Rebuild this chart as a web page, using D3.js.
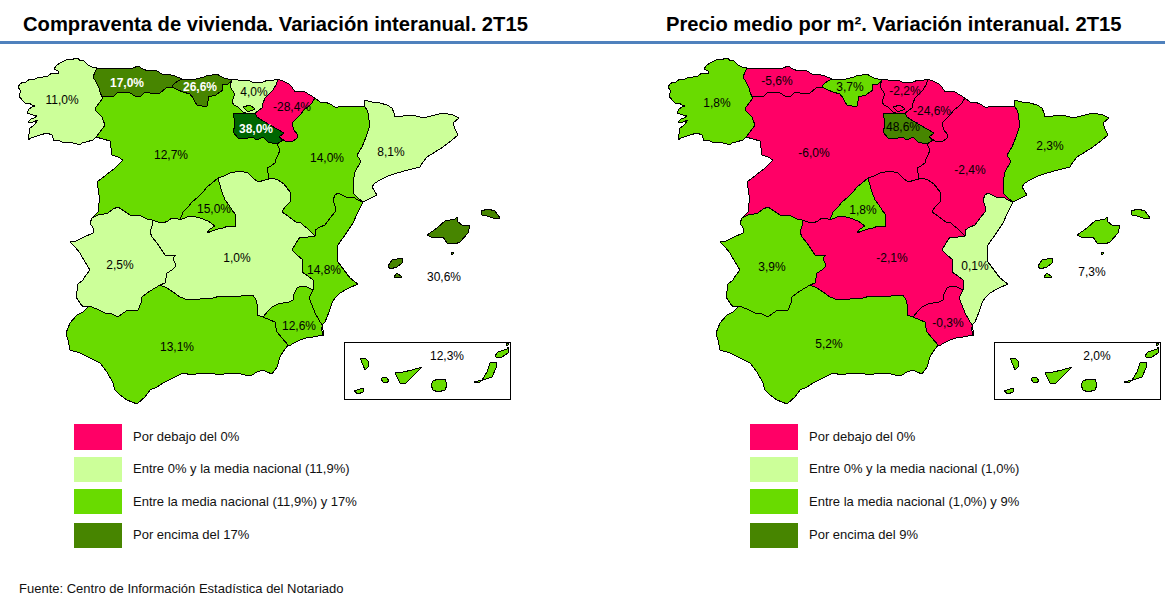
<!DOCTYPE html>
<html>
<head>
<meta charset="utf-8">
<script src="https://d3js.org/d3.v7.min.js"></script>
<style>
  html, body { margin: 0; padding: 0; background: #fff; }
  svg { display: block; }
  text { font-family: "Liberation Sans", Arial, sans-serif; fill: #000; }
  .title { font-size: 20.2px; font-weight: bold; }
  .value { font-size: 12px; text-anchor: middle; }
  .legend { font-size: 13px; fill: #111; }
  .region { stroke: #000; stroke-width: 1; stroke-linejoin: round; fill-rule: evenodd; shape-rendering: crispEdges; }
</style>
</head>
<body>
<div id="chart"></div>
<script>
// Data
var regions = ["Galicia", "Asturias", "Cantabria", "PaisVasco", "Navarra", "Rioja", "Aragon", "Cataluna", "CastillaLeon", "Madrid", "CastillaMancha", "Extremadura", "Valencia", "Murcia", "Andalucia", "Baleares", "Canarias"];
var ventas = [11.0, 17.0, 26.6, 4.0, -28.4, 38.0, 14.0, 8.1, 12.7, 15.0, 1.0, 2.5, 14.8, 12.6, 13.1, 30.6, 12.3];
var precios = [1.8, -5.6, 3.7, -2.2, -24.6, 48.6, -2.4, 2.3, -6.0, 1.8, -2.1, 3.9, 0.1, -0.3, 5.2, 7.3, 2.0];

var titleVentas = "Compraventa de vivienda. Variación interanual. 2T15";
var titlePrecios = "Precio medio por m². Variación interanual. 2T15";
var legendVentas = ["Por debajo del 0%", "Entre 0% y la media nacional (11,9%)", "Entre la media nacional (11,9%) y 17%", "Por encima del 17%"];
var legendPrecios = ["Por debajo del 0%", "Entre 0% y la media nacional (1,0%)", "Entre la media nacional (1,0%) y 9%", "Por encima del 9%"];
var breaksVentas = [0, 11.9, 17, 35];
var breaksPrecios = [0, 1.0, 9];
var source = "Fuente: Centro de Información Estadística del Notariado";

// Shared borders, traced in the units of the left map
var arcs = {
  galCoast: [[97,68],[92,67],[88,65],[85,62],[83,60],[80,61],[78,58],[75,58],[72,60],[68,59],[64,61],[60,63],[56,66],[54,69],[58,71],[58,74],[52,73],[48,76],[43,77],[39,77],[35,79],[30,79],[26,82],[23,82],[20,84],[18,87],[20,90],[20,93],[19,96],[22,100],[25,103],[29,103],[32,105],[35,106],[32,107],[29,109],[27,113],[30,114],[33,115],[37,116],[34,118],[31,119],[28,122],[33,122],[38,120],[35,124],[33,126],[30,128],[29,134],[28,140],[31,138],[34,137],[40,135],[47,133],[52,135],[54,141],[57,140],[60,141],[64,143],[67,142],[73,143],[77,144],[80,145],[83,142],[86,142],[93,140],[96,137]],
  galCyl: [[96,137],[100,132],[105,125],[103,120],[102,117],[98,113],[95,110],[96,107],[100,102],[103,98],[102,97]],
  galAst: [[102,97],[100,92],[99,88],[96,82],[93,77],[95,72],[97,68]],
  astCoast: [[97,68],[103,69],[110,68],[118,69],[127,68],[133,68],[138,66],[143,69],[148,71],[153,70],[157,71],[162,74],[167,74],[175,76],[182,79]],
  astCant: [[182,79],[178,81],[175,83],[173,85],[172,87]],
  astCyl: [[102,97],[108,96],[113,97],[116,94],[118,92],[124,92],[130,93],[135,96],[140,97],[144,93],[147,92],[153,94],[160,93],[166,88],[172,87]],
  cantCoast: [[182,79],[187,80],[192,79],[196,79],[200,78],[204,77],[208,75],[212,75],[217,74],[220,76],[224,78],[232,80]],
  cantCyl: [[172,87],[178,90],[183,92],[190,94],[193,98],[195,102],[197,105],[202,106],[207,106],[208,101],[208,97],[212,96],[216,95],[220,92],[223,90],[222,85],[228,84],[232,80]],
  basCoast: [[232,80],[236,79],[240,81],[248,80],[252,82],[256,83],[263,82],[268,80],[270,81],[278,79]],
  basNav: [[278,79],[276,85],[273,90],[269,94],[265,98],[263,103],[262,108],[255,113]],
  basRio: [[255,113],[249,114]],
  basCyl: [[249,114],[243,112],[238,107],[234,105],[232,102],[234,96],[234,93],[231,88],[230,85],[232,80]],
  navNorth: [[278,79],[285,82],[289,84],[292,87],[295,92],[300,91],[305,92],[310,95],[315,98]],
  navAra: [[315,98],[312,103],[308,107],[304,110],[300,115],[296,119],[292,123],[294,130],[297,134],[297,138],[292,142],[285,141],[279,137]],
  navRio: [[279,137],[284,133],[277,129],[270,125],[263,121],[257,117],[255,113]],
  rioAra: [[279,137],[283,140],[277,144]],
  rioCyl: [[277,144],[272,143],[268,142],[263,137],[257,140],[252,137],[248,138],[243,139],[238,138],[233,132],[235,125],[234,118],[233,113],[240,113],[249,114]],
  araNorth: [[315,98],[320,102],[325,102],[330,104],[335,107],[338,107],[344,106],[350,107],[358,106],[365,107]],
  araCat: [[365,107],[367,110],[368,113],[369,120],[369,128],[366,137],[362,147],[357,155],[360,160],[360,163],[355,172],[353,182],[354,188],[353,193],[358,198],[363,202]],
  araVal: [[363,202],[358,200],[353,197],[346,197],[338,193],[335,195],[333,200],[335,206],[335,212],[330,218],[325,225],[320,227],[315,230],[315,236]],
  araClm: [[315,236],[311,232],[307,228],[304,226],[300,222],[296,222],[293,220],[288,216],[282,212],[285,207],[290,202],[291,197],[290,192],[284,184],[278,180],[272,178]],
  araCyl: [[277,144],[280,150],[278,155],[276,159],[275,163],[271,166],[267,168],[268,173],[268,178],[272,178]],
  clmCylE: [[272,178],[265,180],[258,182],[253,178],[248,173],[244,172],[240,171],[235,172],[230,173],[224,176],[218,178]],
  madCyl: [[218,178],[212,183],[207,187],[203,192],[198,197],[192,202],[188,207],[183,212],[180,220]],
  madClm: [[218,178],[220,185],[222,192],[225,200],[229,205],[232,210],[235,214],[235,218],[236,226],[228,226],[223,228],[218,229],[212,231],[207,233],[210,229],[215,226],[208,221],[200,218],[192,216],[187,217],[180,220]],
  clmCylW: [[180,220],[176,218],[172,218],[168,221],[163,223],[158,222],[152,220]],
  extCyl: [[92,218],[98,215],[104,214],[108,213],[113,209],[118,207],[124,211],[130,215],[136,215],[141,216],[147,219],[152,220]],
  cylPort: [[96,137],[103,139],[110,141],[111,148],[112,155],[118,157],[123,160],[119,164],[115,168],[106,175],[97,182],[98,188],[99,195],[99,203],[98,212],[92,218]],
  extPort: [[92,218],[90,223],[93,228],[93,233],[82,238],[76,241],[70,242],[75,247],[80,253],[85,262],[90,270],[86,275],[83,280],[78,284],[77,291],[76,297],[80,303],[83,307],[89,306]],
  extAnd: [[89,306],[97,309],[105,313],[112,314],[118,317],[123,313],[128,310],[133,311],[138,310],[141,303],[142,297],[150,291],[155,288],[160,285]],
  extClm: [[160,285],[165,283],[166,278],[167,273],[172,270],[176,266],[173,258],[176,255],[170,256],[165,255],[161,249],[157,243],[152,237],[150,232],[152,226],[152,220]],
  andClm: [[160,285],[167,288],[173,292],[180,297],[188,300],[195,299],[200,299],[207,298],[213,298],[220,296],[225,296],[231,296],[237,297],[245,295],[253,295],[256,300],[258,307],[257,315],[263,317]],
  andMur: [[263,317],[270,320],[275,322],[276,328],[277,332],[282,338],[288,345]],
  clmMur: [[263,317],[268,311],[272,307],[278,304],[283,303],[289,302],[293,300],[294,294],[297,288],[301,286],[305,286],[309,288],[313,290]],
  valClm: [[315,236],[308,237],[300,237],[296,243],[292,250],[297,255],[303,260],[302,267],[302,272],[308,276],[313,280],[313,285],[313,290]],
  valMur: [[313,290],[309,298],[312,305],[315,313],[319,320],[322,325]],
  valCoast: [[363,202],[358,212],[353,223],[345,235],[340,242],[337,247],[337,255],[338,262],[344,270],[350,278],[358,284],[349,288],[340,293],[335,298],[332,303],[329,312],[325,322],[322,325]],
  murCoast: [[322,325],[324,335],[318,336],[313,337],[306,338],[300,340],[294,343],[289,346],[288,345]],
  andCoast: [[288,345],[283,352],[280,357],[277,367],[272,374],[267,372],[263,370],[257,372],[252,375],[245,375],[237,373],[228,373],[220,375],[210,373],[200,373],[192,375],[183,373],[173,378],[163,383],[157,387],[150,390],[145,397],[137,404],[132,402],[127,400],[120,395],[115,390],[113,383],[107,372],[100,363],[90,358],[80,353],[70,350],[68,340],[66,333],[70,323],[77,315],[83,312],[89,306]],
  catCoast: [[365,107],[364,100],[372,102],[380,103],[387,105],[392,108],[394,113],[395,117],[403,116],[412,115],[420,117],[427,117],[435,115],[443,113],[453,115],[459,118],[453,123],[455,129],[458,135],[451,141],[443,147],[435,152],[427,157],[423,162],[420,167],[408,170],[397,173],[388,176],[380,180],[375,183],[372,187],[377,195],[367,200],[363,202]]
};

// Islands, enclaves and lagoons have no shared border, so they are plain rings
var extraRings = {
  CastillaLeon: [[[243,107],[250,105],[255,109],[248,112]]],
  Cantabria: [[[225,99],[230,97],[233,101],[229,103]]],
  Navarra: [[[301,120],[304,118],[306,121],[303,122]]],
  Murcia: [[[321,327],[324,332],[323,335],[320,331]]],
  Baleares: [
    [[427,235],[437,228],[445,221],[455,219],[457,217],[458,222],[462,225],[470,225],[468,233],[460,242],[455,244],[447,243],[443,237],[433,238]],
    [[481,211],[488,209],[495,211],[500,218],[493,218],[487,216],[482,215]],
    [[388,266],[392,260],[402,258],[402,263],[397,267],[390,269]],
    [[394,277],[397,273],[402,277],[397,278]],
    [[451,252],[453,252],[453,254],[451,254]]
  ],
  Canarias: [
    [[360,358],[365,358],[369,362],[368,367],[365,370],[363,365]],
    [[354,391],[363,388],[363,392],[358,394]],
    [[381,379],[383,377],[387,378],[389,381],[386,383],[383,382]],
    [[395,373],[403,372],[412,370],[422,367],[417,372],[412,377],[405,384],[400,383]],
    [[431,385],[433,381],[438,379],[445,379],[447,385],[445,390],[438,392],[433,390]],
    [[474,382],[482,380],[487,372],[490,363],[496,362],[496,368],[492,377],[483,380],[478,383]],
    [[495,356],[498,352],[507,349],[508,347],[508,353],[502,357],[497,358]],
    [[506,343],[508,343],[508,345],[506,345]]
  ]
};

var borders = {
  Galicia: ["galCoast", "galCyl", "galAst"],
  Asturias: ["astCoast", "astCant", "-astCyl", "galAst"],
  Cantabria: ["cantCoast", "-cantCyl", "-astCant"],
  PaisVasco: ["basCoast", "basNav", "basRio", "basCyl"],
  Navarra: ["navNorth", "navAra", "navRio", "-basNav"],
  Rioja: ["-basRio", "-navRio", "rioAra", "rioCyl"],
  Aragon: ["-navAra", "araNorth", "araCat", "araVal", "araClm", "-araCyl", "-rioAra"],
  Cataluna: ["catCoast", "-araCat"],
  CastillaLeon: ["astCyl", "cantCyl", "-basCyl", "-rioCyl", "araCyl", "clmCylE", "madCyl", "clmCylW", "-extCyl", "-cylPort", "galCyl"],
  Madrid: ["madClm", "-madCyl"],
  CastillaMancha: ["-clmMur", "-andClm", "extClm", "-clmCylW", "-madClm", "-clmCylE", "-araClm", "valClm"],
  Extremadura: ["extPort", "extAnd", "extClm", "-extCyl"],
  Valencia: ["valCoast", "-valMur", "-valClm", "-araVal"],
  Murcia: ["murCoast", "-andMur", "clmMur", "valMur"],
  Andalucia: ["andCoast", "extAnd", "andClm", "andMur"],
  Baleares: [],
  Canarias: []
};

var labelsVentas = {
  Galicia: [62,100], Asturias: [127,83], Cantabria: [200,87], PaisVasco: [254,92], Navarra: [292,107],
  Rioja: [256,129], Aragon: [327,158], Cataluna: [391,152], CastillaLeon: [171,155], Madrid: [214,209],
  CastillaMancha: [237,258], Extremadura: [120,265], Valencia: [324,270], Murcia: [299,326],
  Andalucia: [177,347], Baleares: [444,277], Canarias: [447,356]
};
var labelsPrecios = {
  Galicia: [67,103], Asturias: [127,81], Cantabria: [200,87], PaisVasco: [255,91], Navarra: [282,111],
  Rioja: [253,127], Aragon: [320,170], Cataluna: [400,146], CastillaLeon: [164,153], Madrid: [213,210],
  CastillaMancha: [242,258], Extremadura: [122,267], Valencia: [325,266], Murcia: [298,323],
  Andalucia: [179,344], Baleares: [442,272], Canarias: [447,356]
};

var colors = ["#FF0066", "#CCFF99", "#69DB00", "#478500", "#006600"];

function ringOf(names) {
  var ring = [];
  names.forEach(function (name) {
    var arc = name[0] === "-" ? arcs[name.slice(1)].slice().reverse() : arcs[name];
    ring = ring.concat(ring.length ? arc.slice(1) : arc);
  });
  return ring;
}

function regionGeometry(name) {
  var polygons = [];
  if (borders[name].length) polygons.push([ringOf(borders[name])]);
  (extraRings[name] || []).forEach(function (r) {
    if (name === "Murcia") polygons[0].push(r);
    else polygons.push([r.concat([r[0]])]);
  });
  return { type: "MultiPolygon", coordinates: polygons };
}

var width = 1168, height = 597;
var svg = d3.select("#chart").append("svg").attr("width", width).attr("height", height);

svg.append("rect").attr("x", 0).attr("y", 41).attr("width", 1165).attr("height", 3).attr("fill", "#4F81BD");

function drawMap(opts) {
  var g = svg.append("g");
  var color = d3.scaleThreshold().domain(opts.breaks).range(colors);
  var projection = d3.geoIdentity().translate([opts.dx, 0]);
  var path = d3.geoPath(projection);

  g.append("text").attr("class", "title").attr("x", opts.titleX).attr("y", 31).text(opts.title);

  g.append("rect")
    .attr("x", 344.5 + opts.dx).attr("y", 342.5).attr("width", 166).attr("height", 57)
    .attr("fill", "#fff").attr("stroke", "#000");

  g.selectAll("path.region")
    .data(regions)
    .enter().append("path")
    .attr("class", "region")
    .attr("d", function (d) { return path(regionGeometry(d)); })
    .attr("fill", function (d, i) { return color(opts.values[i]); });

  g.selectAll("text.value")
    .data(regions)
    .enter().append("text")
    .attr("class", "value")
    .attr("x", function (d) { return opts.labels[d][0] + opts.dx; })
    .attr("y", function (d) { return opts.labels[d][1] + 4; })
    .style("fill", function (d, i) {
      return opts.values[i] >= opts.whiteFrom && d !== "Baleares" ? "#fff" : "#000";
    })
    .style("font-weight", function (d, i) {
      return opts.values[i] >= opts.whiteFrom && d !== "Baleares" ? "bold" : "normal";
    })
    .text(function (d, i) { return opts.values[i].toFixed(1).replace(".", ",") + "%"; });

  var legendRows = [424, 457, 489, 523];
  var rowHeights = [26, 25, 25, 25];
  var baselines = [441, 473, 506, 539];
  var legend = g.selectAll("g.legendRow")
    .data(opts.legend)
    .enter().append("g")
    .attr("class", "legendRow");
  legend.append("rect")
    .attr("x", opts.legendX).attr("width", 48)
    .attr("y", function (d, i) { return legendRows[i]; })
    .attr("height", function (d, i) { return rowHeights[i]; })
    .attr("fill", function (d, i) { return colors[i]; });
  legend.append("text")
    .attr("class", "legend")
    .attr("x", opts.legendX + 59)
    .attr("y", function (d, i) { return baselines[i]; })
    .text(function (d) { return d; });
}

drawMap({ title: titleVentas, titleX: 23, dx: 0, legendX: 74, values: ventas, breaks: breaksVentas, labels: labelsVentas, legend: legendVentas, whiteFrom: 17 });
drawMap({ title: titlePrecios, titleX: 666, dx: 650, legendX: 750, values: precios, breaks: breaksPrecios, labels: labelsPrecios, legend: legendPrecios, whiteFrom: Infinity });

svg.append("text").attr("class", "legend").attr("x", 19).attr("y", 593).text(source);
</script>
</body>
</html>
